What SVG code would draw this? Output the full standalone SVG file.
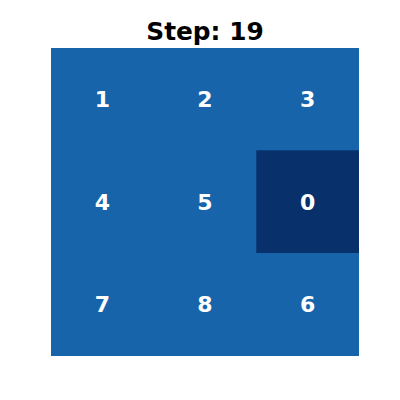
<svg xmlns="http://www.w3.org/2000/svg" width="400" height="400" viewBox="0 0 400 400">
<style>
.cell{fill:#1764ab}
.blank{fill:#08306b}
.num{font-family:"DejaVu Sans",sans-serif;font-weight:bold;font-size:22px;fill:#ffffff;text-anchor:middle}
.title{font-family:"DejaVu Sans",sans-serif;font-weight:bold;font-size:24.8px;fill:#000000;text-anchor:middle}
</style>
<rect width="400" height="400" fill="#ffffff"/>
<text class="title" x="205" y="40">Step: 19</text>
<rect class="cell" x="51" y="48" width="308" height="308"/>
<g id="n1"><text class="num" x="102.3" y="106.8">1</text></g>
<g id="n2"><text class="num" x="205" y="106.8">2</text></g>
<g id="n3"><text class="num" x="307.7" y="106.8">3</text></g>
<g id="n4"><text class="num" x="102.3" y="209.5">4</text></g>
<g id="n5"><text class="num" x="205" y="209.5">5</text></g>
<g id="n0"><rect class="blank" x="256.3" y="150.3" width="102.7" height="102.7"/><text class="num" x="307.7" y="209.5">0</text></g>
<g id="n7"><text class="num" x="102.3" y="312.2">7</text></g>
<g id="n8"><text class="num" x="205" y="312.2">8</text></g>
<g id="n6"><text class="num" x="307.7" y="312.2">6</text></g>
<g id="connectors"></g>
</svg>
